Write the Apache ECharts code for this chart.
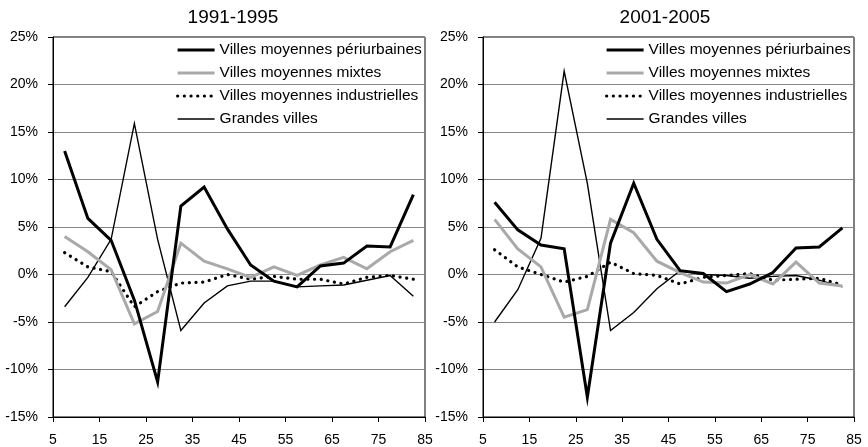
<!DOCTYPE html>
<html>
<head>
<meta charset="utf-8">
<script src="https://cdn.jsdelivr.net/npm/echarts@6/dist/echarts.min.js"></script>
<style>
  html, body { margin: 0; padding: 0; background: #fff; }
  #chart { width: 868px; height: 447px; }
</style>
</head>
<body>
<div id="chart"></div>
<script>
// Age-group midpoints (x) and tick labels
const ages = [7.5, 12.5, 17.5, 22.5, 27.5, 32.5, 37.5, 42.5, 47.5, 52.5, 57.5, 62.5, 67.5, 72.5, 77.5, 82.5];
const xTicks = [5, 15, 25, 35, 45, 55, 65, 75, 85];

const seriesNames = ['Villes moyennes périurbaines', 'Villes moyennes mixtes', 'Villes moyennes industrielles', 'Grandes villes'];
const periodTitles = ['1991-1995', '2001-2005'];

// 1991-1995, values in %
const periurb9195 = [13.0, 5.9, 3.6, -2.7, -11.3, 7.2, 9.2, 4.8, 1.0, -0.7, -1.3, 0.9, 1.2, 3.0, 2.9, 8.4];
const mixtes9195  = [4.0, 2.4, 0.5, -5.2, -3.9, 3.3, 1.4, 0.6, -0.3, 0.8, -0.1, 1.0, 1.8, 0.6, 2.4, 3.6];
const indus9195   = [2.3, 0.8, 0.3, -3.4, -1.8, -0.9, -0.8, 0.0, -0.5, -0.2, -0.5, -0.5, -1.0, -0.3, -0.1, -0.5];
const grandes9195 = [-3.4, -0.3, 3.7, 15.9, 3.7, -5.9, -3.0, -1.2, -0.7, -0.7, -1.3, -1.2, -1.1, -0.6, -0.1, -2.3];

// 2001-2005, values in %
const periurb0105 = [7.6, 4.7, 3.1, 2.7, -12.9, 3.3, 9.6, 3.7, 0.4, 0.1, -1.8, -1.0, 0.2, 2.8, 2.9, 4.9];
const mixtes0105  = [5.8, 2.7, 0.8, -4.5, -3.7, 5.8, 4.4, 1.4, 0.2, -0.8, -0.9, 0.0, -1.0, 1.3, -0.9, -1.2];
const indus0105   = [2.6, 0.8, 0.0, -0.8, -0.2, 1.3, 0.1, -0.1, -1.0, -0.3, -0.1, 0.1, -0.6, -0.5, -0.4, -1.1];
const grandes0105 = [-5.0, -1.6, 3.8, 21.4, 9.6, -5.9, -4.0, -1.5, 0.4, 0.0, -0.1, -0.4, -0.2, -0.1, -0.6, -1.3];

const FONT = '"Liberation Sans", Arial, sans-serif';

const styles = [
  { color: '#000000', width: 3, type: 'solid', cap: 'butt' },
  { color: '#a9a9a9', width: 3, type: 'solid', cap: 'butt' },
  { color: '#000000', width: 3.2, type: [0.1, 6.6], cap: 'round' },
  { color: '#000000', width: 1.4, type: 'solid', cap: 'butt' }
];

const panels = [
  { left: 53, width: 372, data: [periurb9195, mixtes9195, indus9195, grandes9195], legendLeft: 176, titleX: 228 },
  { left: 483, width: 371, data: [periurb0105, mixtes0105, indus0105, grandes0105], legendLeft: 605, titleX: 660 }
];

const grid = [], xAxis = [], yAxis = [], series = [], legend = [], title = [];

panels.forEach((p, k) => {
  const names = seriesNames.map(n => n + (k ? ' ' : ''));
  grid.push({
    left: p.left, width: p.width, top: 37, height: 380,
    show: true, borderColor: '#000', borderWidth: 1, backgroundColor: 'transparent'
  });
  xAxis.push({
    type: 'value', gridIndex: k, min: 5, max: 85,
    axisLine: { show: true, onZero: false, lineStyle: { color: '#000', width: 1 } },
    axisTick: { show: true, length: 5, customValues: xTicks, lineStyle: { color: '#000' } },
    axisLabel: { customValues: xTicks, color: '#000', fontSize: 14, fontFamily: FONT, margin: 16 },
    splitLine: { show: false }
  });
  yAxis.push({
    type: 'value', gridIndex: k, min: -15, max: 25, interval: 5,
    axisLine: { show: true, lineStyle: { color: '#000', width: 1 } },
    axisTick: { show: true, length: 5, lineStyle: { color: '#000' } },
    axisLabel: { formatter: '{value}%', color: '#000', fontSize: 14, fontFamily: FONT, margin: 15 },
    splitLine: { show: true, lineStyle: { color: '#868686', width: 1 } }
  });
  p.data.forEach((vals, i) => {
    const s = styles[i];
    series.push({
      name: names[i],
      type: 'line', xAxisIndex: k, yAxisIndex: k,
      data: ages.map((a, j) => [a, vals[j]]),
      symbol: 'none', silent: true, animation: false,
      z: 10 - i,
      lineStyle: { color: s.color, width: s.width, type: s.type, cap: s.cap, join: 'miter' },
      itemStyle: { color: s.color }
    });
  });
  legend.push({
    orient: 'vertical', left: p.legendLeft, top: 42, padding: 0,
    itemWidth: 37, itemHeight: 14, itemGap: 7,
    itemStyle: { opacity: 0 },
    data: names.map((n, i) => ({
      name: n,
      lineStyle: { color: styles[i].color, width: styles[i].width, type: styles[i].type, cap: styles[i].cap }
    })),
    textStyle: { color: '#000', fontSize: 15.5, fontFamily: FONT, lineHeight: 16 },
    selectedMode: false
  });
  title.push({
    text: periodTitles[k], left: p.titleX, top: 3, textAlign: 'center',
    textStyle: { fontSize: 19, fontWeight: 'normal', color: '#000', fontFamily: FONT }
  });
});

const chart = echarts.init(document.getElementById('chart'), null, { renderer: 'canvas' });
chart.setOption({
  animation: false,
  backgroundColor: '#fff',
  title, grid, xAxis, yAxis, series, legend
});
</script>
</body>
</html>
